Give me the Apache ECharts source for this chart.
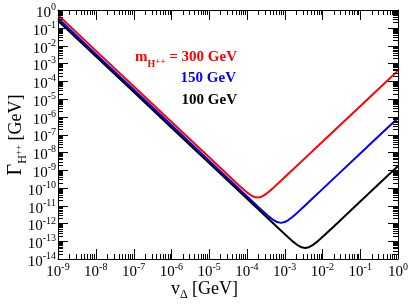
<!DOCTYPE html>
<html><head><meta charset="utf-8">
<script src="https://cdn.jsdelivr.net/npm/echarts@6/dist/echarts.min.js"></script>
<style>html,body{margin:0;padding:0;background:#fff}#c{width:409px;height:306px}</style>
</head><body><div id="c"></div>
<script>
// Tick exponents (labels are 10^exp)
const xTickExps = [-9, -8, -7, -6, -5, -4, -3, -2, -1, 0];
const yTickExps = [-14, -13, -12, -11, -10, -9, -8, -7, -6, -5, -4, -3, -2, -1, 0];

// m_H++ = 300 GeV (red)
const redX = [1e-9, 1e-8, 1e-7, 1e-6, 1e-5, 3e-5, 6e-5, 1e-4, 1.25e-4, 1.55e-4, 1.9e-4, 2.35e-4, 2.9e-4, 3.6e-4, 5e-4, 7e-4, 1e-3, 3e-3, 1e-2, 3e-2, 1e-1, 3e-1, 1];
const redY = [0.52, 5.2e-3, 5.2e-5, 5.2e-7, 5.2e-9, 5.78e-10, 1.46e-10, 5.6e-11, 3.94e-11, 3.1e-11, 2.85e-11, 3.09e-11, 3.9e-11, 5.45e-11, 9.96e-11, 1.92e-10, 3.9e-10, 3.51e-9, 3.9e-8, 3.51e-7, 3.9e-6, 3.51e-5, 3.9e-4];

// m_H++ = 150 GeV (blue)
const blueX = [1e-9, 1e-8, 1e-7, 1e-6, 1e-5, 1e-4, 2e-4, 3e-4, 4e-4, 5e-4, 6.3e-4, 8e-4, 1e-3, 1.25e-3, 1.6e-3, 2.2e-3, 3.3e-3, 5e-3, 1e-2, 3e-2, 1e-1, 3e-1, 1];
const blueY = [0.34, 3.4e-3, 3.4e-5, 3.4e-7, 3.4e-9, 3.4e-11, 8.53e-12, 3.86e-12, 2.26e-12, 1.57e-12, 1.19e-12, 1.075e-12, 1.19e-12, 1.55e-12, 2.31e-12, 4.18e-12, 9.3e-12, 2.13e-11, 8.5e-11, 7.65e-10, 8.5e-9, 7.65e-8, 8.5e-7];

// m_H++ = 100 GeV (black)
const blackX = [1e-9, 1e-8, 1e-7, 1e-6, 1e-5, 1e-4, 3e-4, 6e-4, 1e-3, 1.3e-3, 1.7e-3, 2.2e-3, 2.8e-3, 3.5e-3, 4.4e-3, 5.5e-3, 7e-3, 9e-3, 1.2e-2, 2e-2, 5e-2, 1e-1, 3e-1, 1];
const blackY = [0.25, 2.5e-3, 2.5e-5, 2.5e-7, 2.5e-9, 2.5e-11, 2.78e-12, 6.95e-13, 2.52e-13, 1.51e-13, 9.14e-14, 5.99e-14, 4.52e-14, 4.12e-14, 4.58e-14, 5.97e-14, 8.84e-14, 1.41e-13, 2.47e-13, 6.8e-13, 4.25e-12, 1.7e-11, 1.53e-10, 1.7e-9];

const seriesNames = ['300 GeV', '150 GeV', '100 GeV'];
const seriesColors = ['#ff0000', '#0000ff', '#000000'];

const FONT = 'Liberation Serif';
const zip = (xs, ys) => xs.map((x, i) => [x, ys[i]]);

// minor tick values (2..9 x 10^e) for log axes
const minorOf = exps => {
  const out = [];
  for (let i = 0; i < exps.length - 1; i++) for (let m = 2; m <= 9; m++) out.push(m * Math.pow(10, exps[i]));
  return out;
};
const xMinor = minorOf(xTickExps);
const yMinor = minorOf(yTickExps);
const xMajor = xTickExps.map(e => Math.pow(10, e));
const yMajor = yTickExps.map(e => Math.pow(10, e));

const expLabel = v => {
  const e = Math.round(Math.log10(v));
  const ok = xTickExps.includes(e) || yTickExps.includes(e);
  return ok ? '{b|10}{s|' + e + '}' : '';
};
const tickRich = {
  b: { fontFamily: FONT, fontSize: 15, lineHeight: 15, padding: [6, 0, 0, 0], color: '#000' },
  s: { fontFamily: FONT, fontSize: 10, lineHeight: 10, verticalAlign: 'top', color: '#000' }
};

const axisCommon = {
  type: 'log', logBase: 10,
  axisLine: { show: true, lineStyle: { color: '#000', width: 1 } },
  axisTick: { show: false },
  splitLine: { show: false },
  minorTick: { show: false },
  minorSplitLine: { show: false },
  axisLabel: { show: false }
};

const chart = echarts.init(document.getElementById('c'), null, { renderer: 'canvas' });

// tick marks on all four sides, placed through the axis scales
const tickSeries = (vals, isX, L) => ({
  type: 'custom', silent: true, z: 5,
  xAxisIndex: 0, yAxisIndex: 0,
  data: vals.map(v => isX ? [v, 1e-7] : [1e-4, v]),
  renderItem: (params, api) => {
    const cs = params.coordSys;
    if (isX) {
      const px = Math.round(api.coord([api.value(0), 1e-7])[0]) + 0.5;
      const b = cs.y + cs.height, t = cs.y;
      return { type: 'group', children: [
        { type: 'line', shape: { x1: px, y1: b, x2: px, y2: b - L }, style: { stroke: '#000', lineWidth: 1 } },
        { type: 'line', shape: { x1: px, y1: t, x2: px, y2: t + L }, style: { stroke: '#000', lineWidth: 1 } }
      ]};
    } else {
      const py = Math.round(api.coord([1e-4, api.value(1)])[1]) + 0.5;
      const l = cs.x, r = cs.x + cs.width;
      return { type: 'group', children: [
        { type: 'line', shape: { x1: l, y1: py, x2: l + L, y2: py }, style: { stroke: '#000', lineWidth: 1 } },
        { type: 'line', shape: { x1: r, y1: py, x2: r - L, y2: py }, style: { stroke: '#000', lineWidth: 1 } }
      ]};
    }
  }
});

// tick labels (real text) placed through the axis scales
const labelSeries = (vals, isX) => ({
  type: 'custom', silent: true, z: 6,
  xAxisIndex: 0, yAxisIndex: 0,
  data: vals.map(v => isX ? [v, 1e-7] : [1e-4, v]),
  renderItem: (params, api) => {
    const cs = params.coordSys;
    if (isX) {
      const px = api.coord([api.value(0), 1e-7])[0];
      return { type: 'text', x: px, y: cs.y + cs.height + 3, style: {
        text: expLabel(api.value(0)), align: 'center', verticalAlign: 'top', rich: tickRich } };
    } else {
      const py = api.coord([1e-4, api.value(1)])[1];
      return { type: 'text', x: cs.x - 2, y: py, style: {
        text: expLabel(api.value(1)), align: 'right', verticalAlign: 'middle', rich: tickRich } };
    }
  }
});

const xMin = xMajor[0], xMax = xMajor[xMajor.length - 1];
const yMin = yMajor[0], yMax = yMajor[yMajor.length - 1];

const option = {
  animation: false,
  backgroundColor: '#fff',
  grid: { left: 58, top: 10, right: 11, bottom: 47, containLabel: false },
  xAxis: [
    Object.assign({}, axisCommon, { position: 'bottom', min: xMin, max: xMax }),
    Object.assign({}, axisCommon, { position: 'top', min: xMin, max: xMax })
  ],
  yAxis: [
    Object.assign({}, axisCommon, { position: 'left', min: yMin, max: yMax }),
    Object.assign({}, axisCommon, { position: 'right', min: yMin, max: yMax })
  ],
  series: [
    { name: seriesNames[0], type: 'line', data: zip(redX, redY), showSymbol: false, symbol: 'none', clip: true, lineStyle: { color: seriesColors[0], width: 2 }, z: 3 },
    { name: seriesNames[1], type: 'line', data: zip(blueX, blueY), showSymbol: false, symbol: 'none', clip: true, lineStyle: { color: seriesColors[1], width: 2 }, z: 3 },
    { name: seriesNames[2], type: 'line', data: zip(blackX, blackY), showSymbol: false, symbol: 'none', clip: true, lineStyle: { color: seriesColors[2], width: 2 }, z: 3 },
    tickSeries(xMinor, true, 5),
    tickSeries(yMinor, false, 5),
    tickSeries(xMajor.slice(1, -1), true, 10),
    tickSeries(yMajor.slice(1, -1), false, 10),
    labelSeries(xMajor, true),
    labelSeries(yMajor, false)
  ],
  graphic: [
    // x axis title
    { type: 'text', left: 'center', top: 280, style: {
      text: '{v|v}{d|Δ}{g| [GeV]}', fill: '#000',
      rich: {
        v: { fontFamily: FONT, fontSize: 18, lineHeight: 24 },
        d: { fontFamily: FONT, fontSize: 12, lineHeight: 12, verticalAlign: 'bottom' },
        g: { fontFamily: FONT, fontSize: 18, lineHeight: 24 }
      }
    } },
    // y axis title
    { type: 'text', x: 16, y: 135, rotation: Math.PI / 2, style: {
      text: '{G|Γ}{h|H}{p|++}{g| [GeV]}', fill: '#000', align: 'center', verticalAlign: 'middle',
      rich: {
        G: { fontFamily: FONT, fontSize: 20, lineHeight: 26 },
        h: { fontFamily: FONT, fontSize: 12, lineHeight: 12, verticalAlign: 'bottom' },
        p: { fontFamily: FONT, fontSize: 9, lineHeight: 9, verticalAlign: 'bottom', padding: [0, 0, 6, 0] },
        g: { fontFamily: FONT, fontSize: 18, lineHeight: 26 }
      }
    } },
    // legend-like labels
    { type: 'text', x: 237, y: 57, style: {
      text: '{m|m}{h|H}{p|++}{t| = ' + seriesNames[0] + '}', fill: seriesColors[0], align: 'right', verticalAlign: 'middle',
      rich: {
        m: { fontFamily: FONT, fontSize: 15, fontWeight: 'bold', lineHeight: 24 },
        h: { fontFamily: FONT, fontSize: 10, fontWeight: 'bold', lineHeight: 10, verticalAlign: 'bottom' },
        p: { fontFamily: FONT, fontSize: 9, fontWeight: 'bold', lineHeight: 9, verticalAlign: 'bottom', padding: [0, 0, 3, 0] },
        t: { fontFamily: FONT, fontSize: 15, fontWeight: 'bold', lineHeight: 24 }
      }
    } },
    { type: 'text', x: 236, y: 78, style: { text: seriesNames[1], fill: seriesColors[1], align: 'right', verticalAlign: 'middle', fontFamily: FONT, fontSize: 15, fontWeight: 'bold' } },
    { type: 'text', x: 237, y: 100, style: { text: seriesNames[2], fill: seriesColors[2], align: 'right', verticalAlign: 'middle', fontFamily: FONT, fontSize: 15, fontWeight: 'bold' } }
  ]
};
chart.setOption(option);
</script>
</body></html>
